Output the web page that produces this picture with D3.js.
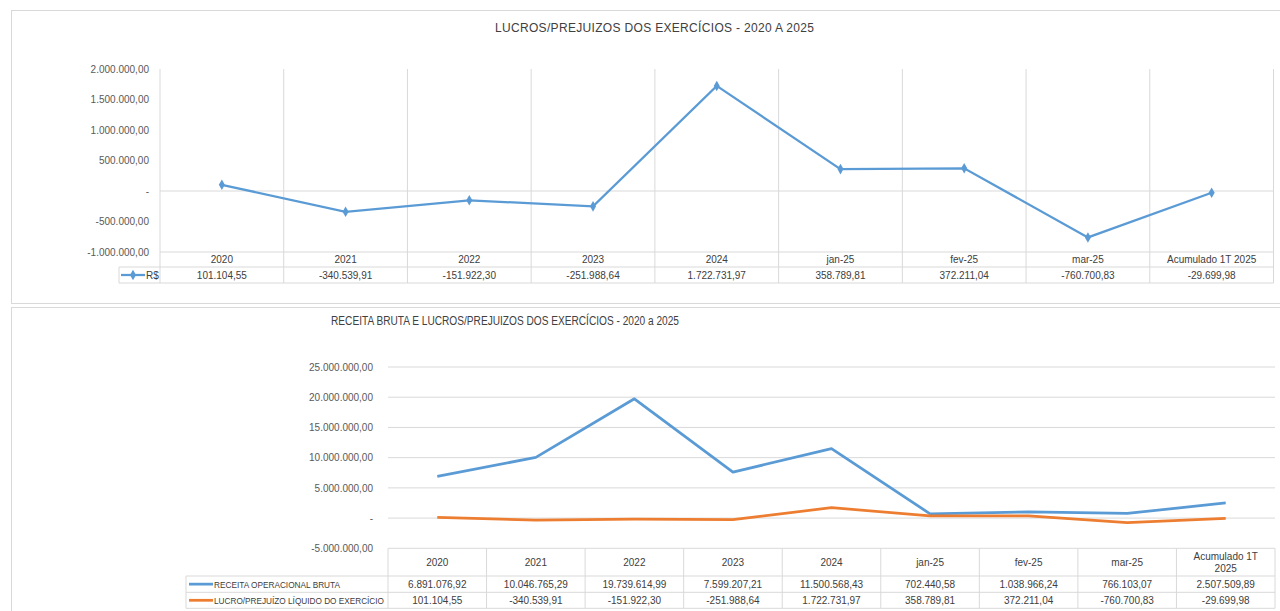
<!DOCTYPE html>
<html lang="pt-BR">
<head>
<meta charset="utf-8">
<script src="https://d3js.org/d3.v7.min.js"></script>
<style>
  body { margin: 0; background: #fff; }
  svg text { font-family: "Liberation Sans", Arial, sans-serif; }
</style>
</head>
<body>
<script>
// categories and series
var categories = ["2020", "2021", "2022", "2023", "2024", "jan-25", "fev-25", "mar-25", "Acumulado 1T 2025"];
var lucro = [101104.55, -340539.91, -151922.30, -251988.64, 1722731.97, 358789.81, 372211.04, -760700.83, -29699.98];
var receita = [6891076.92, 10046765.29, 19739614.99, 7599207.21, 11500568.43, 702440.58, 1038966.24, 766103.07, 2507509.89];
var topTicks = [-1000000, -500000, 0, 500000, 1000000, 1500000, 2000000];
var bottomTicks = [-5000000, 0, 5000000, 10000000, 15000000, 20000000, 25000000];

var br = d3.formatLocale({decimal: ",", thousands: ".", grouping: [3], currency: ["R$", ""], minus: "-"});
var fmt2 = br.format(",.2f");
function fmtAxis(v) { return v === 0 ? "-" : fmt2(v); }

var blue = "#5b9bd5", orange = "#ed7d31", grid = "#d9d9d9", txt = "#404040", axisTxt = "#595959";
var fs = "10px";

var svg = d3.select("body").append("svg")
    .attr("width", 1280)
    .attr("height", 611);

// chart frames
svg.append("rect").attr("x", 11.5).attr("y", 10.5).attr("width", 1275).attr("height", 293)
    .attr("fill", "none").attr("stroke", grid);
svg.append("rect").attr("x", 11.5).attr("y", 307.5).attr("width", 1275).attr("height", 320)
    .attr("fill", "none").attr("stroke", grid);

// ---------- top chart ----------
var t = svg.append("g");
var x1 = d3.scaleBand().domain(categories).range([160, 1273.5]).padding(0);
var y1 = d3.scaleLinear().domain([-1000000, 2000000]).range([252, 69]);
var tTop = 69, tHead = 252, tRow = 267, tBot = 283, tLeg = 119;

t.append("text")
    .attr("x", 495).attr("y", 32)
    .attr("fill", txt)
    .style("font-size", "12px")
    .attr("textLength", 319)
    .attr("lengthAdjust", "spacing")
    .text("LUCROS/PREJUIZOS DOS EXERCÍCIOS - 2020 A 2025");

// vertical grid, running through the data table
var bounds1 = categories.map(function(c) { return x1(c); }).concat([x1.range()[1]]);
t.selectAll(".vgrid").data(bounds1).enter().append("line")
    .attr("x1", function(d) { return d; }).attr("x2", function(d) { return d; })
    .attr("y1", tTop).attr("y2", tBot)
    .attr("stroke", grid);

t.selectAll(".hline").data([y1(0), tHead]).enter().append("line")
    .attr("x1", x1.range()[0]).attr("x2", x1.range()[1])
    .attr("y1", function(d) { return d; }).attr("y2", function(d) { return d; })
    .attr("stroke", grid);
t.selectAll(".tline").data([tRow, tBot]).enter().append("line")
    .attr("x1", tLeg).attr("x2", x1.range()[1])
    .attr("y1", function(d) { return d; }).attr("y2", function(d) { return d; })
    .attr("stroke", grid);
t.append("line").attr("x1", tLeg).attr("x2", tLeg).attr("y1", tRow).attr("y2", tBot).attr("stroke", grid);

var ax1 = t.append("g")
    .attr("transform", "translate(152,0)")
    .call(d3.axisLeft(y1).tickValues(topTicks).tickSize(0).tickFormat(fmtAxis));
ax1.select(".domain").remove();
ax1.selectAll("text").attr("fill", axisTxt).style("font-size", fs)
    .style("font-family", "'Liberation Sans', Arial, sans-serif");

var line1 = d3.line()
    .x(function(d, i) { return x1(categories[i]) + x1.bandwidth() / 2; })
    .y(function(d) { return y1(d); });
t.append("path").datum(lucro)
    .attr("d", line1)
    .attr("fill", "none").attr("stroke", blue).attr("stroke-width", 2.25);
var diamond = d3.symbol().type(d3.symbolDiamond).size(32);
t.selectAll(".pt").data(lucro).enter().append("path")
    .attr("d", diamond)
    .attr("transform", function(d, i) { return "translate(" + (x1(categories[i]) + x1.bandwidth() / 2) + "," + y1(d) + ")"; })
    .attr("fill", blue);

t.selectAll(".hdr").data(categories).enter().append("text")
    .attr("x", function(d) { return x1(d) + x1.bandwidth() / 2; })
    .attr("y", (tHead + tRow) / 2 + 3.5)
    .attr("text-anchor", "middle").attr("fill", txt).style("font-size", fs)
    .text(function(d) { return d; });
t.selectAll(".val").data(lucro).enter().append("text")
    .attr("x", function(d, i) { return x1(categories[i]) + x1.bandwidth() / 2; })
    .attr("y", (tRow + tBot) / 2 + 3.5)
    .attr("text-anchor", "middle").attr("fill", txt).style("font-size", fs)
    .text(function(d) { return fmt2(d); });

// legend key inside table
t.append("line").attr("x1", 121).attr("x2", 145).attr("y1", 275).attr("y2", 275)
    .attr("stroke", blue).attr("stroke-width", 2.25);
t.append("path").attr("d", diamond).attr("transform", "translate(133,275)").attr("fill", blue);
t.append("text").attr("x", 146).attr("y", 278.5).attr("fill", txt).style("font-size", fs).text("R$");

// ---------- bottom chart ----------
var b = svg.append("g");
var x2 = d3.scaleBand().domain(categories).range([388, 1275]).padding(0);
var y2 = d3.scaleLinear().domain([-5000000, 25000000]).range([548.3, 367]);
var bHead = 548.3, bRow1 = 576, bRow2 = 592.3, bBot = 608.3, bLeg = 186;

b.append("text")
    .attr("x", 331).attr("y", 324.5)
    .attr("fill", txt)
    .style("font-size", "12.5px")
    .attr("textLength", 348)
    .attr("lengthAdjust", "spacingAndGlyphs")
    .text("RECEITA BRUTA E LUCROS/PREJUIZOS DOS EXERCÍCIOS - 2020 a 2025");

b.selectAll(".hgrid").data(bottomTicks).enter().append("line")
    .attr("x1", x2.range()[0]).attr("x2", x2.range()[1])
    .attr("y1", function(d) { return y2(d); }).attr("y2", function(d) { return y2(d); })
    .attr("stroke", grid);

var bounds2 = categories.map(function(c) { return x2(c); }).concat([x2.range()[1]]);
b.selectAll(".vtab").data(bounds2).enter().append("line")
    .attr("x1", function(d) { return d; }).attr("x2", function(d) { return d; })
    .attr("y1", bHead).attr("y2", bBot)
    .attr("stroke", grid);
b.selectAll(".rline").data([bRow1, bRow2, bBot]).enter().append("line")
    .attr("x1", bLeg).attr("x2", x2.range()[1])
    .attr("y1", function(d) { return d; }).attr("y2", function(d) { return d; })
    .attr("stroke", grid);
b.append("line").attr("x1", bLeg).attr("x2", bLeg).attr("y1", bRow1).attr("y2", bBot).attr("stroke", grid);

var ax2 = b.append("g")
    .attr("transform", "translate(376,0)")
    .call(d3.axisLeft(y2).tickValues(bottomTicks).tickSize(0).tickFormat(fmtAxis));
ax2.select(".domain").remove();
ax2.selectAll("text").attr("fill", axisTxt).style("font-size", fs)
    .style("font-family", "'Liberation Sans', Arial, sans-serif");

var line2 = d3.line()
    .x(function(d, i) { return x2(categories[i]) + x2.bandwidth() / 2; })
    .y(function(d) { return y2(d); });
var series = [
  {name: "RECEITA OPERACIONAL BRUTA", values: receita, color: blue, w: 126},
  {name: "LUCRO/PREJUÍZO LÍQUIDO DO EXERCÍCIO", values: lucro, color: orange, w: 170}
];
b.selectAll(".sline").data(series).enter().append("path")
    .attr("d", function(s) { return line2(s.values); })
    .attr("fill", "none").attr("stroke", function(s) { return s.color; }).attr("stroke-width", 2.75)
    .attr("stroke-linejoin", "round");

// header cells, the last one wraps onto two lines
var hdr = b.selectAll(".bhdr").data(categories).enter().append("text")
    .attr("x", function(d) { return x2(d) + x2.bandwidth() / 2; })
    .attr("y", (bHead + bRow1) / 2 + 3.5)
    .attr("text-anchor", "middle").attr("fill", txt).style("font-size", fs);
hdr.each(function(d) {
  var el = d3.select(this);
  if (d.length > 10) {
    var cx = x2(d) + x2.bandwidth() / 2;
    el.attr("y", null);
    el.append("tspan").attr("x", cx).attr("y", 559.5).text("Acumulado 1T");
    el.append("tspan").attr("x", cx).attr("y", 572).text("2025");
  } else {
    el.text(d);
  }
});

var rowsY = [(bRow1 + bRow2) / 2 + 3.5, (bRow2 + bBot) / 2 + 3.5];
series.forEach(function(s, k) {
  b.selectAll(".v" + k).data(s.values).enter().append("text")
      .attr("x", function(d, i) { return x2(categories[i]) + x2.bandwidth() / 2; })
      .attr("y", rowsY[k])
      .attr("text-anchor", "middle").attr("fill", txt).style("font-size", fs)
      .text(function(d) { return fmt2(d); });
  b.append("line").attr("x1", 189).attr("x2", 213).attr("y1", rowsY[k] - 3.5).attr("y2", rowsY[k] - 3.5)
      .attr("stroke", s.color).attr("stroke-width", 2.75);
  b.append("text").attr("x", 214).attr("y", rowsY[k]).attr("fill", txt).style("font-size", "9.5px")
      .attr("textLength", s.w).attr("lengthAdjust", "spacingAndGlyphs")
      .text(s.name);
});
</script>
</body>
</html>
